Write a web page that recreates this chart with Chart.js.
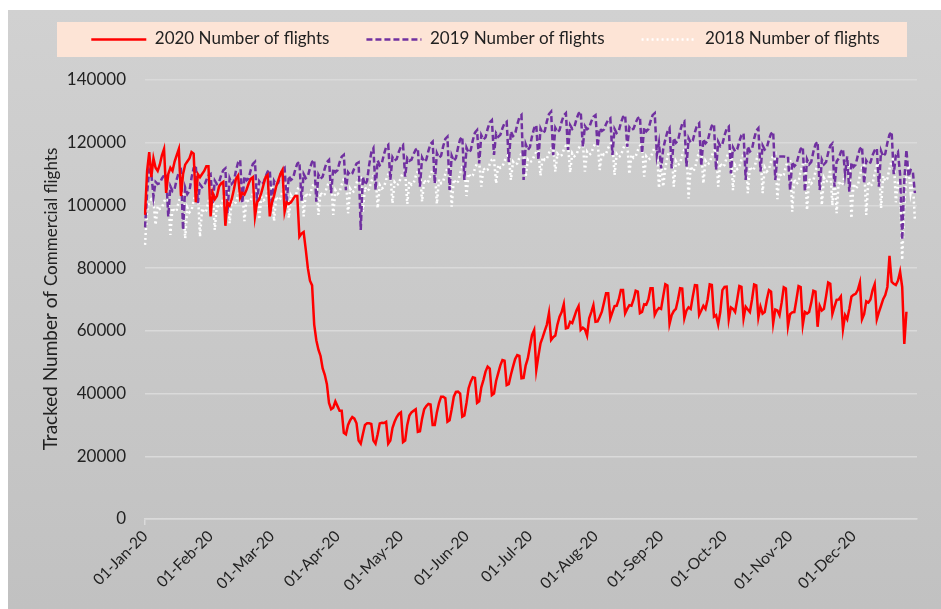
<!DOCTYPE html>
<html>
<head>
<meta charset="utf-8">
<script src="https://cdn.jsdelivr.net/npm/chart.js@4.4.1/dist/chart.umd.min.js"></script>
<style>
  html, body { margin: 0; padding: 0; background: #fff; }
  #wrap { width: 941px; height: 609px; }
</style>
</head>
<body>
<div id="wrap"><canvas id="myChart" width="941" height="609"></canvas></div>
<script>
// x axis: every day of 2020
var monthNames = ['Jan','Feb','Mar','Apr','May','Jun','Jul','Aug','Sep','Oct','Nov','Dec'];
var monthDays = [31,29,31,30,31,30,31,31,30,31,30,31];

var seriesNames = ['2020 Number of flights', '2019 Number of flights', '2018 Number of flights'];
var yTicks = [0, 20000, 40000, 60000, 80000, 100000, 120000, 140000];
var titleMain = 'Tracked Number of ';
var titleSmall = 'Commercial flights';

// daily tracked flights, one row per week (Sat..Fri)
var flights2020 = [
  97000, 111000, 117000,
  109000, 115000, 112000, 111000, 113000, 116000, 118000,
  104000, 110000, 112000, 111000, 114000, 116000, 118000,
  103000, 110000, 113000, 114000, 115000, 117000, 116500,
  101000, 110000, 109000, 110000, 111000, 112500, 112500,
  96500, 104000, 102000, 103000, 106000, 107000, 107500,
  93500, 101000, 100000, 102000, 105000, 108500, 109500,
  102500, 104000, 103500, 105000, 107000, 108500, 109000,
  96500, 101000, 102000, 104000, 106500, 109000, 109700,
  96500, 101000, 103000, 106000, 108000, 110000, 111300,
  98000, 101000, 100500, 101000, 102000, 103000, 103000,
  90000, 91000, 91500, 86000, 80000, 76000, 74500,
  62000, 57000, 54000, 52000, 48000, 46000, 43000,
  37000, 35000, 35500, 37500, 36000, 34500, 34500,
  27500, 27000, 30000, 31500, 32500, 32000, 30500,
  25000, 24000, 27000, 30000, 30500, 30500, 30300,
  25000, 24000, 27000, 30500, 30700, 30600, 31000,
  24000, 25000, 29000, 31000, 32500, 33500, 34000,
  24500, 25000, 30000, 33000, 34000, 34500, 35000,
  27800, 28000, 32000, 35000, 36000, 36700, 36500,
  30000, 30000, 34000, 37000, 39000, 39000, 38500,
  31000, 31500, 35000, 39000, 40500, 40600, 40000,
  32600, 33000, 37000, 41700, 43800, 45200, 45000,
  37000, 37500, 42000, 44300, 47000, 48600, 48000,
  39500, 40000, 44000, 46500, 49000, 50700, 50500,
  42700, 43000, 46000, 48600, 51000, 52300, 52000,
  44900, 45000, 49000, 51200, 55000, 58700, 60300,
  47500, 52000, 56000, 57900, 60000, 62000, 65700,
  57100, 58000, 58500, 62000, 64500, 66000, 68500,
  60800, 61000, 62900, 62500, 64500, 66500, 67900,
  60300, 61000, 60500, 58500, 64000, 66000, 68200,
  62900, 63000, 64500, 66100, 69000, 72000, 72000,
  64000, 66000, 67900, 68000, 70000, 73000, 73000,
  65600, 67000, 68200, 68000, 70000, 72800, 72500,
  65600, 66000, 68500, 68300, 70000, 73600, 73600,
  65100, 66500, 67300, 67000, 71000, 74900, 74500,
  62200, 65000, 66300, 67000, 70000, 73600, 73500,
  64000, 66500, 67500, 67000, 71000, 74600, 74500,
  65100, 66500, 68000, 67000, 70000, 74800, 74600,
  64500, 65000, 62000, 66000, 73000, 74000, 74100,
  63700, 67500, 67000, 66000, 70000, 74300, 74000,
  64000, 67700, 66800, 66000, 70000, 74800, 74500,
  64300, 67700, 65500, 66000, 70000, 73000, 72500,
  62400, 66800, 66500, 65000, 69000, 73900, 73500,
  61500, 65300, 65900, 66000, 70000, 74300, 74000,
  61900, 66000, 65500, 66000, 69000, 72800, 72500,
  61300, 68000, 66500, 67000, 71000, 75400, 75000,
  65400, 67700, 69900, 70000, 71000, 60500, 65000,
  63700, 67000, 70900, 71500, 71800, 73000, 75400,
  63700, 65300, 69400, 69000, 70000, 73000, 74900,
  63700, 66000, 68000, 70100, 71400, 74000, 83900,
  75700, 75000, 74600, 76000, 78900, 74000, 55800,
  66100
];

var flights2019 = [
  93000, 104000, 111300, 110000,
  102800, 107500, 106800, 107100, 108600, 109600, 110000,
  96400, 106100, 104600, 105300, 108300, 110600, 111300,
  92200, 105700, 103600, 104600, 108800, 111900, 112900,
  100700, 106700, 105800, 106300, 108100, 109500, 110000,
  100700, 107900, 106800, 107400, 109600, 111200, 111800,
  97500, 108600, 106900, 107700, 111100, 113700, 114500,
  100700, 109300, 108000, 108600, 111300, 113200, 113900,
  101000, 107700, 106700, 107200, 109200, 110800, 111300,
  100000, 107800, 106600, 107200, 109600, 111400, 112000,
  101000, 109400, 108100, 108700, 111300, 113300, 113900,
  101500, 110000, 108700, 109300, 111900, 113900, 114500,
  101200, 109800, 108500, 109200, 111800, 113800, 114500,
  103900, 111800, 110600, 111200, 113700, 115500, 116100,
  104900, 110600, 109700, 110200, 111900, 113300, 113700,
  92200, 109100, 106500, 107800, 113000, 116900, 118200,
  104900, 114300, 112800, 113500, 116400, 118600, 119300,
  108100, 115400, 114300, 114800, 117100, 118700, 119300,
  109200, 115100, 114200, 114600, 116400, 117800, 118200,
  106000, 115300, 113900, 114600, 117400, 119600, 120300,
  107000, 116700, 115200, 115900, 118900, 121200, 121900,
  104900, 115900, 114200, 115100, 118500, 121100, 121900,
  108100, 118400, 116800, 117600, 120800, 123200, 124000,
  113400, 122400, 121000, 121700, 124400, 126500, 127200,
  116100, 123000, 121900, 122500, 124600, 126200, 126700,
  113900, 123600, 122100, 122800, 125800, 128100, 128800,
  108100, 119500, 117700, 118600, 122100, 124700, 125600,
  114500, 124500, 123000, 123700, 126800, 129100, 129900,
  116000, 124700, 123400, 124000, 126700, 128700, 129400,
  117700, 125600, 124400, 125000, 127500, 129300, 129900,
  118700, 125300, 124300, 124800, 126800, 128300, 128800,
  118700, 124600, 123700, 124200, 126000, 127300, 127800,
  116100, 124400, 123100, 123700, 126300, 128200, 128800,
  118700, 124900, 124000, 124500, 126400, 127800, 128300,
  116600, 124900, 123600, 124300, 126800, 128800, 129400,
  116100, 120000, 111800, 118000, 121000, 123500, 124600,
  111800, 121500, 120000, 120700, 123700, 126000, 126700,
  112400, 121400, 120000, 120700, 123400, 125500, 126200,
  112600, 121200, 119800, 120500, 123300, 125400, 126000,
  111300, 120300, 118900, 119600, 122300, 124400, 125100,
  110200, 118500, 117200, 117900, 120400, 122400, 123000,
  108100, 118800, 117200, 118000, 121300, 123800, 124600,
  110800, 119100, 117800, 118400, 121000, 122900, 123500,
  108100, 115600, 115600, 115600, 115600, 115500, 115600,
  104900, 113900, 112500, 113200, 115900, 118000, 118700,
  104400, 114700, 113100, 113900, 117100, 119500, 120300,
  104900, 114600, 113100, 113800, 116800, 119100, 119800,
  106000, 114000, 115000, 117000, 118000, 110000, 115600,
  104400, 113700, 112300, 113000, 115800, 118000, 118700,
  107000, 114300, 113200, 113700, 116000, 117600, 118200,
  106000, 117400, 115600, 116500, 120000, 122600, 123500,
  110000, 116000, 117000, 110000, 89000, 108000, 117700,
  109200, 111300, 111000, 103900
];

var flights2018 = [
  87400, 98500, 101000, 102000, 101500,
  93800, 99800, 98900, 99300, 101200, 102500, 103000,
  90600, 99300, 98000, 98600, 101300, 103300, 104000,
  89500, 99300, 97800, 98500, 101500, 103800, 104500,
  90000, 99100, 97700, 98400, 101200, 103300, 104000,
  92200, 100500, 99200, 99900, 102400, 104400, 105000,
  94300, 101600, 100500, 101000, 103300, 104900, 105500,
  95000, 102200, 101100, 101600, 103800, 105500, 106000,
  95500, 102700, 101600, 102100, 104300, 106000, 106500,
  95000, 102800, 101600, 102200, 104600, 106400, 107000,
  96000, 103200, 102100, 102600, 104800, 106500, 107000,
  96500, 104000, 102800, 103400, 105700, 107400, 108000,
  97000, 104200, 103100, 103600, 105800, 107500, 108000,
  97000, 104800, 103600, 104200, 106600, 108400, 109000,
  97500, 105300, 104100, 104700, 107100, 108900, 109500,
  98000, 105800, 104600, 105200, 107600, 109400, 110000,
  99100, 106500, 105400, 105900, 108200, 109900, 110500,
  100700, 107400, 106400, 106900, 109000, 110500, 111000,
  100500, 107700, 106600, 107100, 109300, 111000, 111500,
  101200, 108200, 107100, 107700, 109800, 111500, 112000,
  100500, 108300, 107100, 107700, 110100, 111900, 112500,
  99600, 108300, 107000, 107600, 110300, 112300, 113000,
  103000, 110200, 109100, 109600, 111800, 113500, 114000,
  106000, 111900, 111000, 111400, 113200, 114600, 115000,
  107000, 112900, 112000, 112400, 114200, 115600, 116000,
  108100, 113900, 113000, 113400, 115200, 116600, 117000,
  109200, 114600, 113800, 114200, 115800, 117100, 117500,
  109500, 115400, 114500, 114900, 116700, 118100, 118500,
  110800, 116500, 115600, 116000, 117800, 119100, 119500,
  110500, 116700, 115700, 116200, 118100, 119500, 120000,
  110800, 117100, 116100, 116600, 118600, 120000, 120500,
  111300, 117000, 116100, 116500, 118300, 119600, 120000,
  109700, 116400, 115400, 115900, 118000, 119500, 120000,
  110000, 116200, 115200, 115700, 117600, 119000, 119500,
  109200, 115600, 114600, 115100, 117000, 118500, 119000,
  105500, 113600, 106000, 112000, 115500, 117400, 118000,
  106000, 114100, 112900, 113500, 116000, 117900, 118500,
  102200, 112500, 110900, 111700, 114800, 117200, 118000,
  107000, 114200, 113100, 113600, 115800, 117500, 118000,
  106000, 113500, 112300, 112900, 115200, 116900, 117500,
  104900, 112800, 111600, 112200, 114600, 116400, 117000,
  103900, 112400, 111100, 111800, 114400, 116300, 117000,
  103900, 112100, 110800, 111500, 114000, 115900, 116500,
  102000, 110500, 109200, 109800, 112400, 114400, 115000,
  98000, 108400, 106800, 107600, 110800, 113200, 114000,
  98500, 108600, 107000, 107800, 110900, 113200, 114000,
  100100, 108800, 107500, 108100, 111500, 100000, 110000,
  97500, 107900, 106300, 107100, 110300, 112700, 113500,
  95900, 107000, 105300, 106200, 109600, 112100, 113000,
  97000, 107700, 106100, 106900, 110200, 112700, 113500,
  99100, 109400, 107800, 108600, 111800, 114200, 115000,
  101000, 108000, 105000, 82600, 100000, 110000, 112000,
  104000, 108000, 95400
];

var dayLabels = [];
monthNames.forEach(function (m, mi) {
  for (var d = 1; d <= monthDays[mi]; d++) {
    dayLabels.push((d < 10 ? '0' + d : '' + d) + '-' + m + '-20');
  }
});

function isMonthStart(i) {
  return dayLabels[i] && dayLabels[i].slice(0, 3) === '01-';
}

var FONT = 'Lato, "Liberation Sans", sans-serif';
var SAMPLE_W = 55;

// gray backdrop, peach legend band, dashed legend samples and the two-size y title
var decor = {
  id: 'decor',
  beforeDraw: function (chart) {
    var c = chart.ctx;
    c.save();
    c.fillStyle = '#ffffff';
    c.fillRect(0, 0, chart.width, chart.height);
    var g = c.createLinearGradient(0, 10, 0, chart.height);
    g.addColorStop(0, '#d1d1d1');
    g.addColorStop(1, '#c1c1c1');
    c.fillStyle = g;
    c.fillRect(8, 10, chart.width - 8, chart.height - 10);
    c.fillStyle = '#fde4d6';
    c.fillRect(57, 22, 850, 35);
    c.restore();
  },
  afterLayout: function (chart) {
    // centre the legend row under the peach band
    chart.legend.left += 23;
    chart.legend.right += 23;
  },
  afterDraw: function (chart) {
    var c = chart.ctx;
    c.save();
    chart.legend.legendHitBoxes.forEach(function (hb, i) {
      var ds = chart.data.datasets[i];
      var y = Math.round(hb.top + hb.height / 2) + 0.5;
      c.beginPath();
      c.strokeStyle = ds.borderColor;
      c.lineWidth = ds.borderWidth;
      c.setLineDash(ds.borderDash || []);
      c.moveTo(hb.left, y);
      c.lineTo(hb.left + SAMPLE_W, y);
      c.stroke();
    });
    c.setLineDash([]);
    c.font = '19px ' + FONT;
    var w1 = c.measureText(titleMain).width;
    c.font = '17px ' + FONT;
    var w2 = c.measureText(titleSmall).width;
    c.translate(57, 299 + (w1 + w2) / 2);
    c.rotate(-Math.PI / 2);
    c.fillStyle = '#222222';
    c.textBaseline = 'alphabetic';
    c.font = '19px ' + FONT;
    c.fillText(titleMain, 0, 0);
    c.font = '17px ' + FONT;
    c.fillText(titleSmall, w1, 0);
    c.restore();
  }
};

// legend is given a fixed height so the plot starts at the 140000 line
var legendHeight = {
  id: 'legendHeight',
  beforeInit: function (chart) {
    var fit = chart.legend.fit;
    chart.legend.fit = function () {
      fit.bind(chart.legend)();
      this.height = 87;
    };
  }
};

var ctx = document.getElementById('myChart').getContext('2d');
var myChart = new Chart(ctx, {
    type: 'line',
    data: {
        labels: dayLabels,
        datasets: [
            { label: seriesNames[0], data: flights2020, borderColor: '#ff0000', backgroundColor: '#ff0000', borderWidth: 2.5 },
            { label: seriesNames[1], data: flights2019, borderColor: '#7030a0', backgroundColor: '#7030a0', borderWidth: 2.5, borderDash: [6, 3] },
            { label: seriesNames[2], data: flights2018, borderColor: '#ffffff', backgroundColor: '#ffffff', borderWidth: 2.5, borderDash: [2, 3] }
        ]
    },
    options: {
        responsive: false,
        animation: false,
        elements: { point: { radius: 0 }, line: { tension: 0 } },
        layout: { padding: { left: 8, right: 24, top: -7, bottom: 0 } },
        plugins: {
            tooltip: { enabled: false },
            legend: {
                position: 'top',
                labels: {
                    boxWidth: SAMPLE_W,
                    boxHeight: 0,
                    padding: 37,
                    color: '#222222',
                    font: { family: FONT, size: 17 },
                    generateLabels: function (chart) {
                        var items = Chart.defaults.plugins.legend.labels.generateLabels(chart);
                        items.forEach(function (it) {
                            it.strokeStyle = 'rgba(0,0,0,0)';
                            it.fillStyle = 'rgba(0,0,0,0)';
                        });
                        return items;
                    }
                }
            }
        },
        scales: {
            x: {
                offset: false,
                border: { color: '#dadada', width: 1.5 },
                grid: {
                    drawOnChartArea: false,
                    drawTicks: true,
                    tickLength: 6,
                    lineWidth: 1.5,
                    color: function (c) {
                        return (isMonthStart(c.index) || c.index === dayLabels.length - 1) ? '#dadada' : 'rgba(0,0,0,0)';
                    }
                },
                ticks: {
                    autoSkip: false,
                    maxRotation: 45,
                    minRotation: 45,
                    padding: 2,
                    color: '#222222',
                    font: { family: FONT, size: 15.5 },
                    callback: function (v, i) { return isMonthStart(i) ? dayLabels[i] : null; }
                },
                afterFit: function (scale) { scale.height = 90; }
            },
            y: {
                min: 0,
                max: 140000,
                border: { display: false },
                grid: { color: '#dadada', lineWidth: 1.5, drawTicks: false },
                afterBuildTicks: function (scale) {
                    scale.ticks = yTicks.map(function (v) { return { value: v }; });
                },
                ticks: {
                    padding: 19,
                    color: '#222222',
                    font: { family: FONT, size: 17 },
                    callback: function (v) { return String(v); }
                },
                afterFit: function (scale) { scale.width = 137; }
            }
        }
    },
    plugins: [decor, legendHeight]
});
</script>
</body>
</html>
